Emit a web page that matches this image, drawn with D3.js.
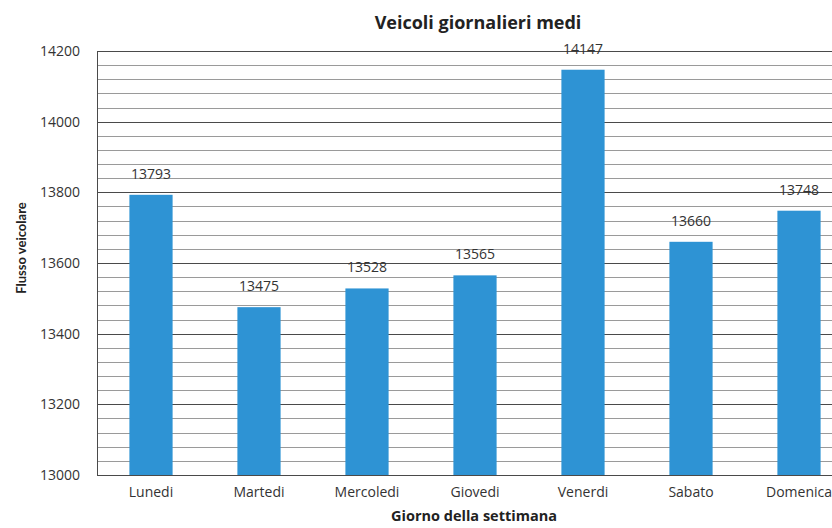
<!DOCTYPE html>
<html>
<head>
<meta charset="utf-8">
<script src="https://cdnjs.cloudflare.com/ajax/libs/d3/7.8.5/d3.min.js"></script>
<style>
body { margin: 0; background: #fff; }
svg { display: block; font-family: "Open Sans", Lato, sans-serif; }
.grid-major { stroke: #4a4a4a; stroke-width: 1; }
.grid-minor { stroke: #9a9a9a; stroke-width: 1; }
.bar { fill: #2e93d4; }
.ticklabel { font-size: 14px; fill: #333; }
.vallabel { font-size: 14px; fill: #333; }
.title { font-size: 18px; font-weight: bold; fill: #222; }
.axtitle { font-size: 14.5px; font-weight: bold; fill: #222; }
.ytitle { font-family: Lato, sans-serif; font-size: 13px; font-weight: bold; fill: #222; }
</style>
</head>
<body>
<div id="chart"></div>
<script>
// data
var days = ["Lunedi", "Martedi", "Mercoledi", "Giovedi", "Venerdi", "Sabato", "Domenica"];
var vehicles = [13793, 13475, 13528, 13565, 14147, 13660, 13748];
var majorTicks = [13000, 13200, 13400, 13600, 13800, 14000, 14200];

var width = 832, height = 528;
// the plot runs past the right edge of the picture, as in the scan
var margin = {top: 51, left: 97, plotRight: 853, bottom: 475};

var svg = d3.select("#chart").append("svg")
    .attr("width", width)
    .attr("height", height);

var x = d3.scaleBand()
    .domain(days)
    .range([margin.left, margin.plotRight])
    .paddingInner(0.6)
    .paddingOuter(0.3);

var y = d3.scaleLinear()
    .domain([13000, 14200])
    .range([margin.bottom, margin.top]);

// minor grid every 40
var minor = d3.range(13040, 14200, 40).filter(function(v) { return v % 200 !== 0; });
svg.append("g").selectAll("line")
    .data(minor).enter().append("line")
    .attr("class", "grid-minor")
    .attr("x1", margin.left).attr("x2", margin.plotRight)
    .attr("y1", function(d) { return Math.round(y(d)) + 0.5; })
    .attr("y2", function(d) { return Math.round(y(d)) + 0.5; });

svg.append("g").selectAll("line")
    .data(majorTicks).enter().append("line")
    .attr("class", "grid-major")
    .attr("x1", margin.left).attr("x2", margin.plotRight)
    .attr("y1", function(d) { return Math.round(y(d)) + 0.5; })
    .attr("y2", function(d) { return Math.round(y(d)) + 0.5; });

// left axis line
svg.append("line")
    .attr("class", "grid-major")
    .attr("x1", margin.left + 0.5).attr("x2", margin.left + 0.5)
    .attr("y1", margin.top).attr("y2", margin.bottom);

svg.append("g").selectAll("text")
    .data(majorTicks).enter().append("text")
    .attr("class", "ticklabel")
    .attr("x", 80)
    .attr("y", function(d) { return y(d); })
    .attr("dy", "0.35em")
    .attr("text-anchor", "end")
    .text(function(d) { return d; });

// bars
svg.append("g").selectAll("rect")
    .data(vehicles).enter().append("rect")
    .attr("class", "bar")
    .attr("x", function(d, i) { return x(days[i]); })
    .attr("width", x.bandwidth())
    .attr("y", function(d) { return y(d); })
    .attr("height", function(d) { return y(13000) - y(d); });

svg.append("g").selectAll("text")
    .data(vehicles).enter().append("text")
    .attr("class", "vallabel")
    .attr("x", function(d, i) { return x(days[i]) + x.bandwidth() / 2; })
    .attr("y", function(d) { return y(d) - 16; })
    .attr("text-anchor", "middle")
    .text(function(d) { return d; });

// category labels
svg.append("g").selectAll("text")
    .data(days).enter().append("text")
    .attr("class", "ticklabel")
    .attr("x", function(d) { return x(d) + x.bandwidth() / 2; })
    .attr("y", 497)
    .attr("text-anchor", "middle")
    .text(function(d) { return d; });

svg.append("text")
    .attr("class", "title")
    .attr("x", 478).attr("y", 29)
    .attr("text-anchor", "middle")
    .text("Veicoli giornalieri medi");

svg.append("text")
    .attr("class", "axtitle")
    .attr("x", 474).attr("y", 521)
    .attr("text-anchor", "middle")
    .text("Giorno della settimana");

svg.append("text")
    .attr("class", "ytitle")
    .attr("transform", "translate(26,248) rotate(-90)")
    .attr("text-anchor", "middle")
    .text("Flusso veicolare");
</script>
</body>
</html>
